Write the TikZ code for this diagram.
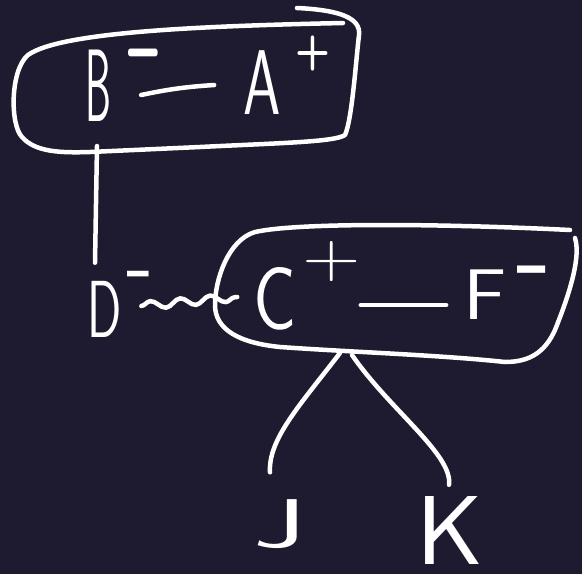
\documentclass[tikz,border=0pt]{standalone}
\usetikzlibrary{calc,decorations.pathmorphing}
\definecolor{bg}{RGB}{30,26,48}
\newcommand{\hwsc}[3]{\scalebox{#1}[#2]{#3}}
\begin{document}
\begin{tikzpicture}[x=1pt,y=-1pt,
  stroke/.style={draw=white, line width=4.5pt, line cap=round, line join=round},
  lbl/.style={text=white, inner sep=0pt, font=\fontsize{92}{92}\selectfont\sffamily},
  chg/.style={text=white, inner sep=0pt, font=\sffamily},
  dsh/.style={text=white, inner sep=0pt, anchor=base}]
\fill[bg] (0,0) rectangle (582,574);
\useasboundingbox (0,0) rectangle (582,574);

% letters
\node[lbl] (B) at (98,86) {\hwsc{0.45}{1.12}{B}};
\node[lbl] (A) at (262,83) {\hwsc{0.65}{1.0}{A}};
\node[lbl] (D) at (105,309) {\hwsc{0.55}{0.88}{D}};
\node[lbl] (C) at (275,299) {\hwsc{0.78}{0.97}{C}};
\node[lbl] (F) at (485,295) {\hwsc{0.88}{0.78}{F}};
\node[lbl] (J) at (280,524) {\hwsc{1.3}{0.75}{J}};
\node[lbl, font=\fontsize{98}{98}\selectfont\sffamily] (K) at (450,530) {\hwsc{1.05}{1}{K}};

% charges (dashes placed by their base line)
\node[dsh, font=\fontsize{54}{54}\selectfont\sffamily\bfseries] (bm) at (143,83) {\hwsc{1}{2}{\textendash}};
\node[chg, font=\fontsize{48}{48}\selectfont\sffamily\bfseries] (ap) at (313,53) {\hwsc{0.85}{1}{+}};
\node[dsh, font=\fontsize{46}{46}\selectfont\sffamily] (dm) at (138,298) {\hwsc{1}{2}{\textendash}};
\node[chg, font=\fontsize{80}{80}\selectfont\sffamily] (cp) at (332,262) {\hwsc{1}{0.8}{+}};
\node[dsh, font=\fontsize{60}{60}\selectfont\sffamily] (fm) at (532,301) {\hwsc{1}{2}{\textendash}};

% box 1
\draw[stroke] (343,23) .. controls (200,26) and (60,32) .. (28,55)
  .. controls (10,70) and (10,125) .. (22,137)
  .. controls (35,152) and (60,153) .. (90,152)
  -- (200,147) .. controls (280,143) and (335,142) .. (345,135)
  .. controls (352,120) and (356,60) .. (359,35)
  .. controls (361,18) and (340,10) .. (297,8);
% box 2
\draw[stroke] (570,230) .. controls (450,224) and (300,222) .. (255,232)
  .. controls (228,240) and (215,280) .. (215,305)
  .. controls (215,330) and (240,343) .. (280,347)
  .. controls (350,352) and (440,355) .. (505,362)
  .. controls (530,362) and (545,352) .. (555,330)
  .. controls (565,305) and (582,260) .. (575,238);

\coordinate (b1bot) at (97,146);
\coordinate (b2l) at (340,353);
\coordinate (b2r) at (352,355);

% bonds
\draw[stroke] ($(B.east)+(30,9)$) to[bend left=4] ($(A.west)+(-29,2)$);
\draw[stroke] ($(C.east)+(64,6)$) -- ($(F.west)+(-17,10)$);
\draw[stroke, decorate, decoration={snake, amplitude=4pt, segment length=30pt}]
  ($(D.east)+(19,-3)$) -- ($(C.west)+(-16,-2)$);

% connectors
\draw[stroke] (b1bot) -- ($(D.north)+(-10,-18)$);
\draw[stroke] (b2l) .. controls +(-40,52) and +(-2,-33) .. ($(J.north)+(-10,-27)$);
\draw[stroke] (b2r) .. controls +(38,55) and +(4,-30) .. ($(K.north)+(-1,-11)$);
\end{tikzpicture}
\end{document}
